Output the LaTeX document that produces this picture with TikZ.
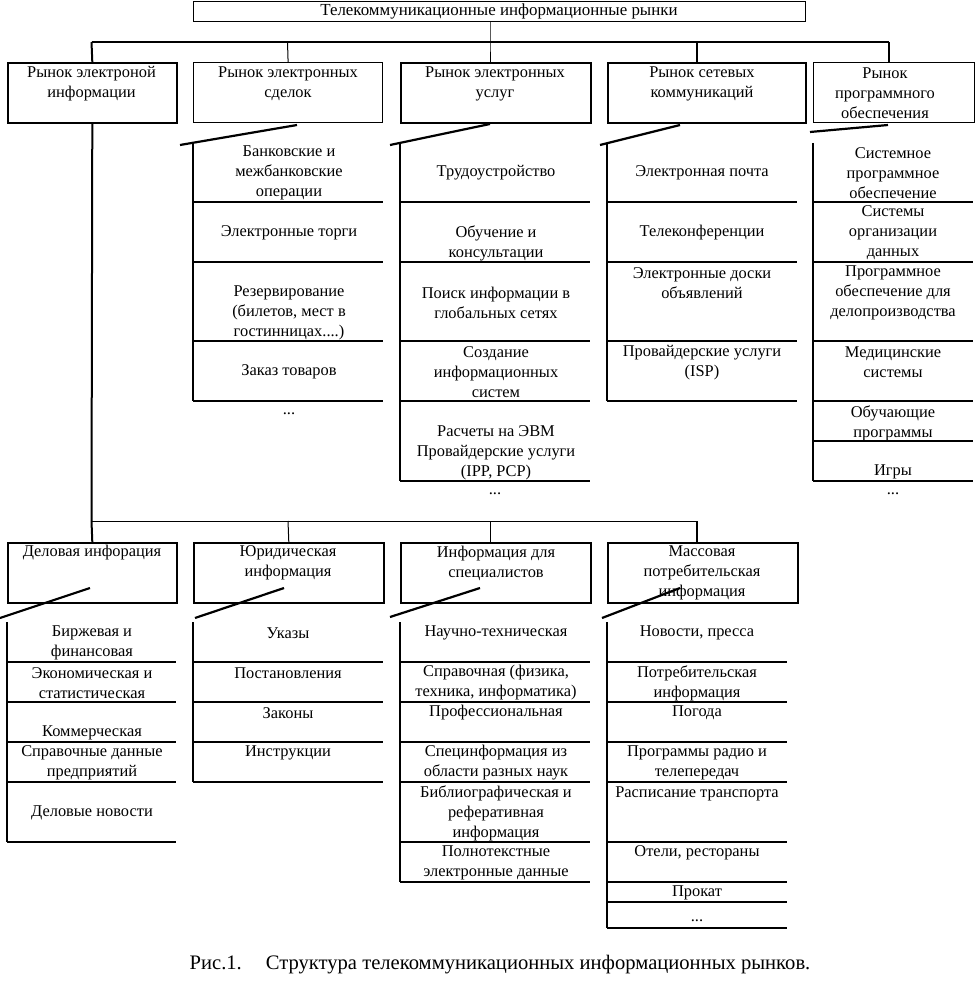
\documentclass[tikz,border=0pt]{standalone}
\usepackage{fontspec}
\setmainfont{Liberation Serif}
\newcommand\mkcol[5]{%
  \draw[gridline] (#1,#3) -- (#1,#4);
  \foreach \yy in {#5} {\draw[gridline] (#1,\yy) -- (#2,\yy);}
}
\begin{document}
\begin{tikzpicture}[x=1pt,y=-1pt,
  box/.style={draw, line width=1.6pt, inner sep=0pt, anchor=north west},
  txt/.style={font=\fontsize{16.4}{20}\selectfont, align=center, inner sep=0pt},
  bus/.style={line width=2pt},
  link/.style={line width=1pt},
  slash/.style={line width=2.2pt},
  gridline/.style={line width=1.5pt}]
\useasboundingbox (0,0) rectangle (975,995);

% ---------- level 1 boxes ----------
\node[box, line width=1.2pt, minimum width=612pt, minimum height=20pt] (top) at (193,0.8) {};
\node[box, minimum width=169pt, minimum height=60pt] (b1) at (7,62) {};
\node[box, line width=1.2pt, minimum width=189pt, minimum height=60pt] (b2) at (193,62) {};
\node[box, minimum width=190pt, minimum height=60pt] (b3) at (400,62) {};
\node[box, minimum width=198pt, minimum height=60pt] (b4) at (607,62) {};
\node[box, line width=1.2pt, minimum width=161pt, minimum height=60pt] (b5) at (813,62) {};

\node[txt, font=\fontsize{16.9}{20}\selectfont] (ttop) at (499,11) {Телекоммуникационные информационные рынки};
\node[txt] (t1) at (91.5,83.5) {Рынок электроной\\информации};
\node[txt] (t2) at (288,83.5) {Рынок электронных\\сделок};
\node[txt] (t3) at (495,83.5) {Рынок электронных\\услуг};
\node[txt] (t4) at (702,83.5) {Рынок сетевых\\коммуникаций};
\node[txt] (t5) at (885,93) {Рынок\\программного\\обеспечения};

% connectors level 1
\coordinate (k1) at (91.5,42);
\coordinate (k2) at (287.5,42);
\coordinate (k3) at (490,42);
\coordinate (k4) at (697,42);
\coordinate (k5) at (889,42);
\draw[bus] (k1) -- (k5);
\draw[bus] (k1) -- (b1.north);
\draw[link] (k2) -- (b2.north);
\draw[link] (top.south -| k3) -- (k3) -- (b3.north -| k3);
\draw[bus] (k4) -- (b4.north -| k4);
\draw[bus] (k5) -- (b5.north -| k5);

% slashes level 1
\draw[slash] (180,145) -- (297,125);
\draw[slash] (390,145) -- (490,124);
\draw[slash] (600,145) -- (680,125);
\draw[slash] (810,132) -- (888,125);

% columns level 1
\mkcol{193}{383}{143}{401}{202,262,341,401}
\mkcol{400}{590}{143}{481}{202,262,341,401,481}
\mkcol{607}{797}{143}{401}{202,262,341,401}
\mkcol{813}{973}{143}{481}{202,262,341,401,441,481}

% column 2 texts
\node[txt] (c21) at (289,173) {Банковские и\\межбанковские\\операции};
\node[txt] (c22) at (289,233) {Электронные торги};
\node[txt] (c23) at (289,313) {Резервирование\\(билетов, мест в\\гостинницах....)};
\node[txt] (c24) at (289,372) {Заказ товаров};
\node[txt] (c25) at (289,414) {...};
% column 3 texts
\node[txt] (c31) at (496,173) {Трудоустройство};
\node[txt] (c32) at (496,243) {Обучение и\\консультации};
\node[txt] (c33) at (496,303) {Поиск информации в\\глобальных сетях};
\node[txt] (c34) at (496,372) {Создание\\информационных\\систем};
\node[txt] (c35) at (496,453) {Расчеты на ЭВМ\\Провайдерские услуги\\(IPP, PCP)};
\node[txt] (c36) at (495,494) {...};
% column 4 texts
\node[txt] (c41) at (702,173) {Электронная почта};
\node[txt] (c42) at (702,233) {Телеконференции};
\node[txt] (c43) at (702,283) {Электронные доски\\объявлений};
\node[txt] (c44) at (702,362.5) {Провайдерские услуги\\(ISP)};
% column 5 texts
\node[txt] (c51) at (893,173) {Системное\\программное\\обеспечение};
\node[txt] (c52) at (893,233) {Системы\\организации\\данных};
\node[txt] (c53) at (893,293) {Программное\\обеспечение для\\делопроизводства};
\node[txt] (c54) at (893,362.5) {Медицинские\\системы};
\node[txt] (c55) at (893,423) {Обучающие\\программы};
\node[txt] (c56) at (893,472) {Игры};
\node[txt] (c57) at (893,494) {...};

% ---------- level 2 boxes ----------
\node[box, minimum width=169pt, minimum height=60pt] (bA) at (7,542) {};
\node[box, minimum width=190pt, minimum height=60pt] (bB) at (193,542) {};
\node[box, minimum width=190pt, minimum height=60pt] (bC) at (400,542) {};
\node[box, minimum width=190pt, minimum height=60pt] (bD) at (607,542) {};

\node[txt] (tA) at (92,553) {Деловая инфорация};
\node[txt] (tB) at (288,563) {Юридическая\\информация};
\node[txt] (tC) at (496,563) {Информация для\\специалистов};
\node[txt] (tD) at (702,573) {Массовая\\потребительская\\информация};

% connectors level 2
\coordinate (m1) at (91.5,521);
\coordinate (m2) at (288,521);
\coordinate (m3) at (490,521);
\coordinate (m4) at (697,521);
\draw[bus] (b1.south) -- (m1);
\draw[link] (m1) -- (m4);
\draw[bus] (m1) -- (bA.north);
\draw[link] (m2) -- (bB.north);
\draw[link] (m3) -- (bC.north -| m3);
\draw[bus] (m4) -- (bD.north -| m4);

% slashes level 2
\draw[slash] (0,618) -- (90,588);
\draw[slash] (195,618) -- (284,588);
\draw[slash] (390,617) -- (480,588);
\draw[slash] (602,618) -- (680,588);

% columns level 2
\mkcol{7}{176}{622}{842}{662,702,742,782,842}
\mkcol{193}{383}{622}{782}{662,702,742,782}
\mkcol{400}{590}{622}{882}{662,702,742,782,842,882}
\mkcol{607}{787}{622}{928}{662,702,742,782,842,882,902,928}

% column A texts
\node[txt] (cA1) at (92,643) {Биржевая и\\финансовая};
\node[txt] (cA2) at (92,683) {Экономическая и\\статистическая};
\node[txt] (cA3) at (92,733) {Коммерческая};
\node[txt] (cA4) at (92,763) {Справочные данные\\предприятий};
\node[txt] (cA5) at (92,813) {Деловые новости};
% column B texts
\node[txt] (cB1) at (288,633) {Указы};
\node[txt] (cB2) at (288,673) {Постановления};
\node[txt] (cB3) at (288,713) {Законы};
\node[txt] (cB4) at (288,753) {Инструкции};
% column C texts
\node[txt] (cC1) at (496,633) {Научно-техническая};
\node[txt] (cC2) at (496,683) {Справочная (физика,\\техника, информатика)};
\node[txt] (cC3) at (496,713) {Профессиональная};
\node[txt] (cC4) at (496,763) {Специнформация из\\области разных наук};
\node[txt] (cC5) at (496,813) {Библиографическая и\\реферативная\\информация};
\node[txt] (cC6) at (496,863) {Полнотекстные\\электронные данные};
% column D texts
\node[txt] (cD1) at (697,633) {Новости, пресса};
\node[txt] (cD2) at (697,683) {Потребительская\\информация};
\node[txt] (cD3) at (697,713) {Погода};
\node[txt] (cD4) at (697,763) {Программы радио и\\телепередач};
\node[txt] (cD5) at (697,794) {Расписание транспорта};
\node[txt] (cD6) at (697,853) {Отели, рестораны};
\node[txt] (cD7) at (697,893) {Прокат};
\node[txt] (cD8) at (697,921) {...};

% caption
\node[font=\fontsize{20.6}{24}\selectfont, inner sep=0pt] (cap) at (500,965) {Рис.1.\hspace{24pt}Структура телекоммуникационных информационных рынков.};
\end{tikzpicture}
\end{document}
